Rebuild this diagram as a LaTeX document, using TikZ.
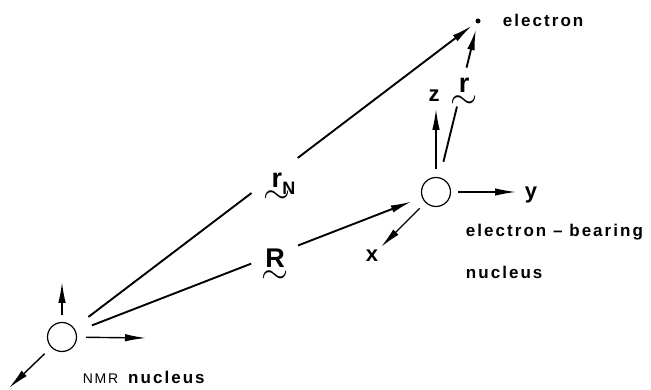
\documentclass[tikz,border=0pt]{standalone}
\usepackage{fontspec}
\setmainfont{Liberation Sans}
\newfontfamily\lblfont[LetterSpace=12]{Liberation Sans}
\usetikzlibrary{arrows.meta}

\begin{document}
\begin{tikzpicture}[x=1pt,y=1pt,>={Latex[length=21pt,width=7.5pt]},line width=1.9pt,
  nucl/.style={circle,draw,line width=1.2pt,minimum size=29pt,inner sep=0pt},
  axarrow/.style={->,line width=1.4pt},
  linegap/.style={circle,fill=white,inner sep=0pt,minimum size=#1},
  lbl/.style={font=\lblfont\bfseries\fontsize{17}{20}\selectfont,inner sep=0pt},
  axis/.style={font=\lblfont\bfseries\fontsize{22}{24}\selectfont,inner sep=1pt},
  vec/.style={font=\bfseries\fontsize{27}{29}\selectfont,align=center,inner sep=0pt}]
  \useasboundingbox (0,0) rectangle (651,390);
  \node[nucl] (nmr) at (62,53) {};
  \node[nucl] (eb) at (436,198) {};
  \node[circle,fill,inner sep=0pt,minimum size=5pt] (el) at (478,369) {};
  \coordinate (nz) at (62,108);
  \coordinate (ny) at (146,52);
  \coordinate (nx) at (9,2);
  \coordinate (ez) at (436,281);
  \coordinate (ey) at (516,198);
  \coordinate (ex) at (381,143);
  \draw[axarrow,shorten <=7pt] (nmr) -- (nz);
  \draw[axarrow,shorten <=9pt] (nmr) -- (ny);
  \draw[axarrow,shorten <=9pt] (nmr) -- (nx);
  \draw[axarrow,shorten <=8pt] (eb) -- (ez);
  \draw[axarrow,shorten <=7pt] (eb) -- (ey);
  \draw[axarrow,shorten <=8pt] (eb) -- (ex);
  \draw[->,shorten <=18pt,shorten >=4pt] (nmr) -- node[linegap=58pt,pos=0.5] {} (el);
  \draw[->,shorten <=17pt,shorten >=11pt] (nmr) -- node[linegap=50pt,pos=0.574] {} (eb);
  \draw[->,shorten <=16pt,shorten >=5pt] (eb) -- node[linegap=40pt,pos=0.59] {} (el);
  \node[vec] (rN) at (277,202) {r\rlap{\raisebox{-7pt}{\fontsize{18}{18}\selectfont N}}\\[-13pt]\scalebox{1.4}{$\sim$}};
  \node[vec] (R) at (275,124) {R\\[-13pt]\scalebox{1.4}{$\sim$}};
  \node[vec] (r) at (464,297) {r\\[-13pt]\scalebox{1.4}{$\sim$}};
  \node[axis] (zlab) at (434,294) {z};
  \node[axis] (ylab) at (531,195) {y};
  \node[axis] (xlab) at (372,134) {x};
  \node[lbl,anchor=west] (elname) at (502,370) {electron};
  \node[lbl,anchor=west] (ebname) at (465,158) {electron \textendash{} bearing};
  \node[lbl,anchor=west] (ebname2) at (465,118) {nucleus};
  \node[lbl,anchor=west] (nmrname) at (82,13) {{\fontsize{14}{16}\selectfont\mdseries NMR}\hspace{10pt}nucleus};
\end{tikzpicture}
\end{document}
